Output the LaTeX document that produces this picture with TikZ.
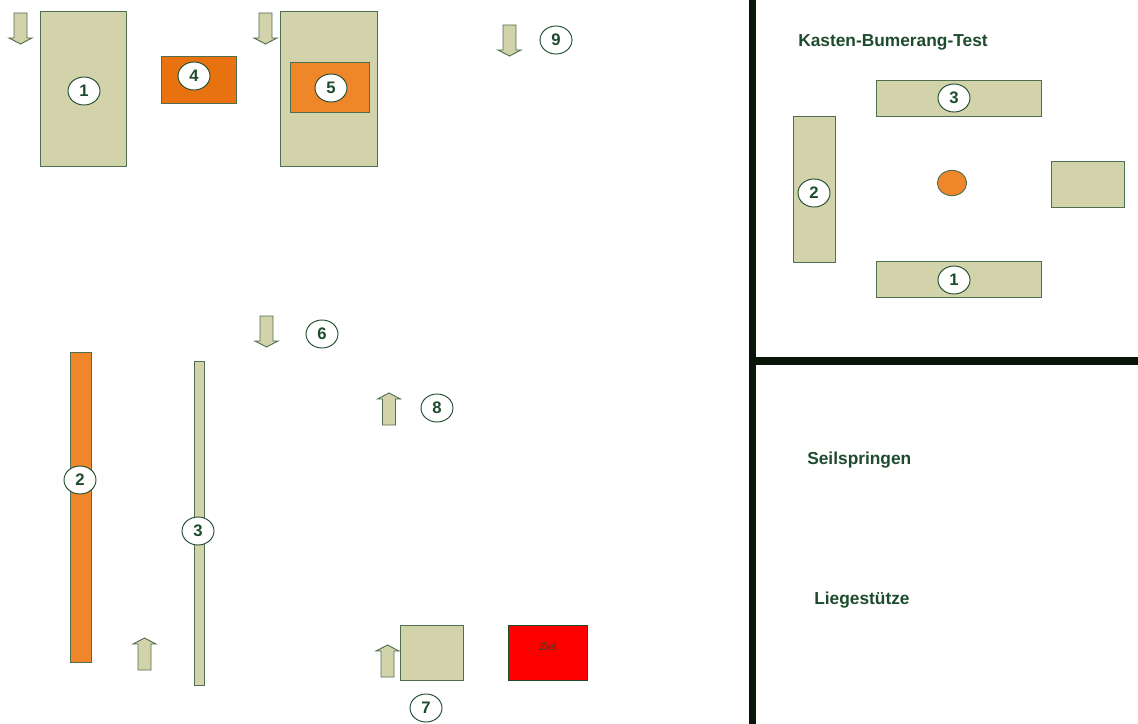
\documentclass[tikz,border=0pt]{standalone}
\usepackage{fontspec}
\setmainfont{Liberation Sans}
\usetikzlibrary{shapes.geometric}
\definecolor{khaki}{RGB}{211,211,171}
\definecolor{edgegreen}{RGB}{80,110,80}
\definecolor{txtgreen}{RGB}{30,75,45}
\definecolor{darkorange}{RGB}{232,114,16}
\definecolor{litorange}{RGB}{240,134,42}
\definecolor{zielred}{RGB}{255,0,0}
\definecolor{walls}{RGB}{8,22,10}
\tikzset{
  box/.style={draw=edgegreen, line width=0.7pt, fill=khaki},
  obox/.style={draw=edgegreen, line width=0.7pt, fill=litorange},
  num/.style={ellipse, draw=txtgreen, line width=0.7pt, fill=white, minimum width=24pt, minimum height=21pt, inner sep=0pt, font=\bfseries\fontsize{12.5}{13}\selectfont, text=txtgreen},
  title/.style={font=\bfseries\fontsize{13}{15}\selectfont, text=txtgreen, anchor=west, inner sep=0pt},
  arrowshape/.style={draw=edgegreen, line width=0.7pt, fill=khaki, line join=miter},
  wall/.style={draw=walls, line width=5.5pt},
  pics/downarrow/.style={code={
    \draw[arrowshape] (-6.5,0) -- (6.5,0) -- (6.5,25) -- (11.5,25) -- (0,31) -- (-11.5,25) -- (-6.5,25) -- cycle;}},
  pics/uparrow/.style={code={
    \draw[arrowshape] (-6.5,32) -- (6.5,32) -- (6.5,6) -- (11.5,6) -- (0,0) -- (-11.5,6) -- (-6.5,6) -- cycle;}}
}
\begin{document}
\begin{tikzpicture}[x=0.75pt,y=-0.75pt]
\useasboundingbox (0,0) rectangle (1138,724);
% left area
\pic (a1) at (20.5,13) {downarrow};
\draw[box] (40,11) rectangle (126,166);
\node[num] (n1) at (84,91) {1};
\draw[box, fill=darkorange] (161,56) rectangle (236,103);
\node[num] (n4) at (194,76) {4};
\pic (a5) at (265.5,13) {downarrow};
\draw[box] (280,11) rectangle (377,166);
\draw[obox] (290,62) rectangle (369,112);
\node[num] (n5) at (331,88) {5};
\pic (a9) at (509.5,25) {downarrow};
\node[num] (n9) at (556,40) {9};
\pic (a6) at (266.5,316) {downarrow};
\node[num] (n6) at (322,334) {6};
\pic (a8) at (389,393) {uparrow};
\node[num] (n8) at (437,408) {8};
\draw[obox] (70,352) rectangle (91,662);
\node[num] (n2) at (80,480) {2};
\draw[box] (194,361) rectangle (204,685);
\node[num] (n3) at (198,531) {3};
\pic (a2) at (144.5,638) {uparrow};
\pic (a7) at (387.5,645) {uparrow};
\draw[box] (400,625) rectangle (463,680);
\node[num] (n7) at (426,708) {7};
\draw[box, fill=zielred, draw=txtgreen] (508,625) rectangle (587,680);
\node[font=\fontsize{8}{9}\selectfont, text=txtgreen] (ziel) at (548,647) {Ziel};
% walls
\draw[wall] (752.5,0) -- (752.5,724);
\draw[wall] (752.5,361) -- (1138,361);
% right area
\node[title] (t1) at (798,42) {Kasten-Bumerang-Test};
\draw[box] (876,80) rectangle (1041,116);
\node[num] (r3) at (954,98) {3};
\draw[box] (793,116) rectangle (835,262);
\node[num] (r2) at (814,193) {2};
\node[ellipse, draw=edgegreen, line width=0.7pt, fill=litorange, minimum width=22pt, minimum height=19pt, inner sep=0pt] (ball) at (952,183) {};
\draw[box] (1051,161) rectangle (1124,207);
\draw[box] (876,261) rectangle (1041,297);
\node[num] (r1) at (954,280) {1};
\node[title] (t2) at (807,460) {Seilspringen};
\node[title] (t3) at (814,600) {Liegestütze};
\end{tikzpicture}
\end{document}
